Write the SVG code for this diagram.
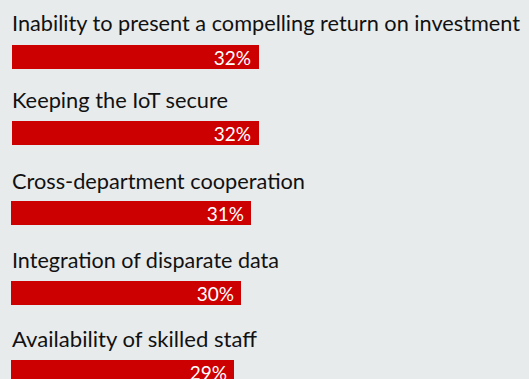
<svg xmlns="http://www.w3.org/2000/svg" width="529" height="379" viewBox="0 0 529 379">
<style>
.lbl{font-family:Lato,"Liberation Sans",sans-serif;font-size:21.5px;fill:#111;}
.bar{fill:#cc0000;}
.pct{font-family:Lato,"Liberation Sans",sans-serif;font-size:19px;fill:#fff;text-anchor:end;}
</style>
<rect width="529" height="379" fill="#e8ebec"/>
<g id="row1">
<text class="lbl" x="12" y="31" textLength="508" lengthAdjust="spacingAndGlyphs">Inability to present a compelling return on investment</text>
<rect class="bar" x="12" y="45" width="247" height="24"/>
<text class="pct" x="251" y="65">32%</text>
</g>
<g id="row2">
<text class="lbl" x="12" y="108" textLength="216" lengthAdjust="spacingAndGlyphs">Keeping the IoT secure</text>
<rect class="bar" x="12" y="121" width="247" height="24"/>
<text class="pct" x="251" y="141">32%</text>
</g>
<g id="row3">
<text class="lbl" x="12" y="189" textLength="293" lengthAdjust="spacingAndGlyphs">Cross-department cooperation</text>
<rect class="bar" x="11" y="201" width="240" height="24"/>
<text class="pct" x="244" y="221">31%</text>
</g>
<g id="row4">
<text class="lbl" x="12" y="268" textLength="267" lengthAdjust="spacingAndGlyphs">Integration of disparate data</text>
<rect class="bar" x="11" y="281" width="230" height="24"/>
<text class="pct" x="234" y="301">30%</text>
</g>
<g id="row5">
<text class="lbl" x="12" y="347" textLength="245" lengthAdjust="spacingAndGlyphs">Availability of skilled staff</text>
<rect class="bar" x="11" y="360" width="223" height="24"/>
<text class="pct" x="227" y="380">29%</text>
</g>
<g id="connectors"/>
</svg>
